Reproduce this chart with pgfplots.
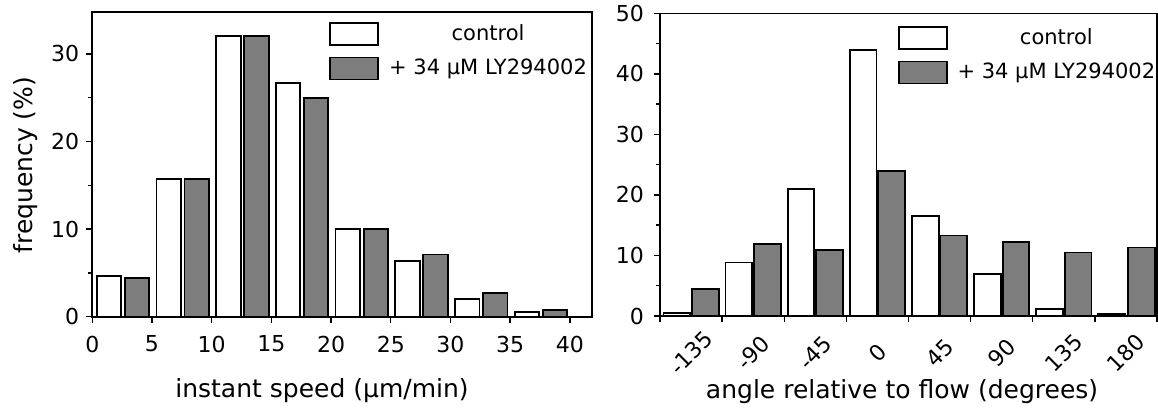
\documentclass[border=0pt]{standalone}
\usepackage{fontspec}
\setmainfont{DejaVu Sans}
\usepackage{pgfplots}
\pgfplotsset{compat=1.18}
\definecolor{barGray}{HTML}{7D7D7D}

\pgfplotsset{
  panel/.style={
    scale only axis,
    anchor=south west,
    ymin=0,
    tick align=outside,
    tick pos=left,
    major tick length=3pt,
    minor tick length=2pt,
    every tick/.style={black, line width=0.7pt},
    axis line style={line width=0.8pt},
    /pgf/number format/assume math mode=true,
    tick label style={font=\fontsize{11}{12}\selectfont},
    label style={font=\fontsize{12.5}{15}\selectfont},
    legend style={draw=none, fill=none, inner sep=0pt, anchor=north west,
      font=\fontsize{10.5}{12}\selectfont, row sep=4pt, column sep=3pt},
    legend cell align=center,
    legend image code/.code={\draw[#1] (0pt,-5.5pt) rectangle (24pt,5.5pt);},
  },
  ctrl/.style={ybar, bar shift=0pt, draw=black, line width=0.9pt, fill=white},
  drug/.style={ybar, bar shift=0pt, draw=black, line width=0.9pt, fill=barGray},
}

\begin{document}
\begin{tikzpicture}

% left: instant speed histogram
\begin{axis}[panel,
  at={(46.15pt,45.65pt)},
  width=249.7pt, height=152.2pt,
  xmin=0, xmax=41.83, ymax=34.75,
  xtick={0,5,...,40},
  x tick label style={yshift=-3pt},
  ytick={0,10,20,30}, minor ytick={5,15,25},
  xlabel={instant speed (µm/min)},
  ylabel={frequency (\%)},
  x label style={at={(axis description cs:0.46,-0.264)}, anchor=base},
  y label style={at={(axis description cs:-0.133,0.498)}, anchor=center, rotate=0},
  legend style={at={(axis description cs:0.474,0.975)}},
]
  \addplot[ctrl, bar width=2.05] coordinates {
    (1.4,4.65) (6.4,15.7) (11.4,32.0) (16.4,26.7)
    (21.4,10.0) (26.4,6.4) (31.4,2.0) (36.4,0.5)
  };
  \addlegendentry{control}
  \addplot[drug, bar width=2.05] coordinates {
    (3.75,4.45) (8.75,15.7) (13.75,32.0) (18.75,25.0)
    (23.75,10.0) (28.75,7.1) (33.75,2.7) (38.75,0.75)
  };
  \addlegendentry{+ 34 µM LY294002}
\end{axis}

% right: angle histogram, labels sit under the bin centres
\begin{axis}[panel,
  at={(330pt,46pt)},
  width=248.5pt, height=151.35pt,
  xmin=0, xmax=8, ymax=50,
  xtick={0.5,1.5,2.5,3.5,4.5,5.5,6.5,7.5},
  xticklabels={-135,-90,-45,0,45,90,135,180},
  xtick style={draw=none},
  x tick label style={yshift=-15.5pt, rotate=45, anchor=center},
  extra x ticks={0,1,2,3,4,5,6,7,8},
  extra x tick labels={},
  extra x tick style={xtick style={draw=black, line width=0.7pt}},
  y tick label style={xshift=-1.5pt},
  ytick={0,10,...,50}, minor ytick={5,15,...,45},
  xlabel={angle relative to flow (degrees)},
  x label style={at={(axis description cs:0.487,-0.274)}, anchor=base},
  legend style={at={(axis description cs:0.4775,0.965)}},
]
  \addplot[ctrl, bar width=0.43] coordinates {
    (0.27,0.5) (1.27,8.85) (2.27,21.0) (3.27,43.9)
    (4.27,16.5) (5.27,6.9) (6.27,1.1) (7.27,0.3)
  };
  \addlegendentry{control}
  \addplot[drug, bar width=0.43] coordinates {
    (0.73,4.5) (1.73,11.9) (2.73,10.9) (3.73,24.0)
    (4.73,13.3) (5.73,12.2) (6.73,10.5) (7.75,11.3)
  };
  \addlegendentry{+ 34 µM LY294002}
\end{axis}

\pgfresetboundingbox
\path (0,0) rectangle (579pt,204pt);
\end{tikzpicture}
\end{document}
